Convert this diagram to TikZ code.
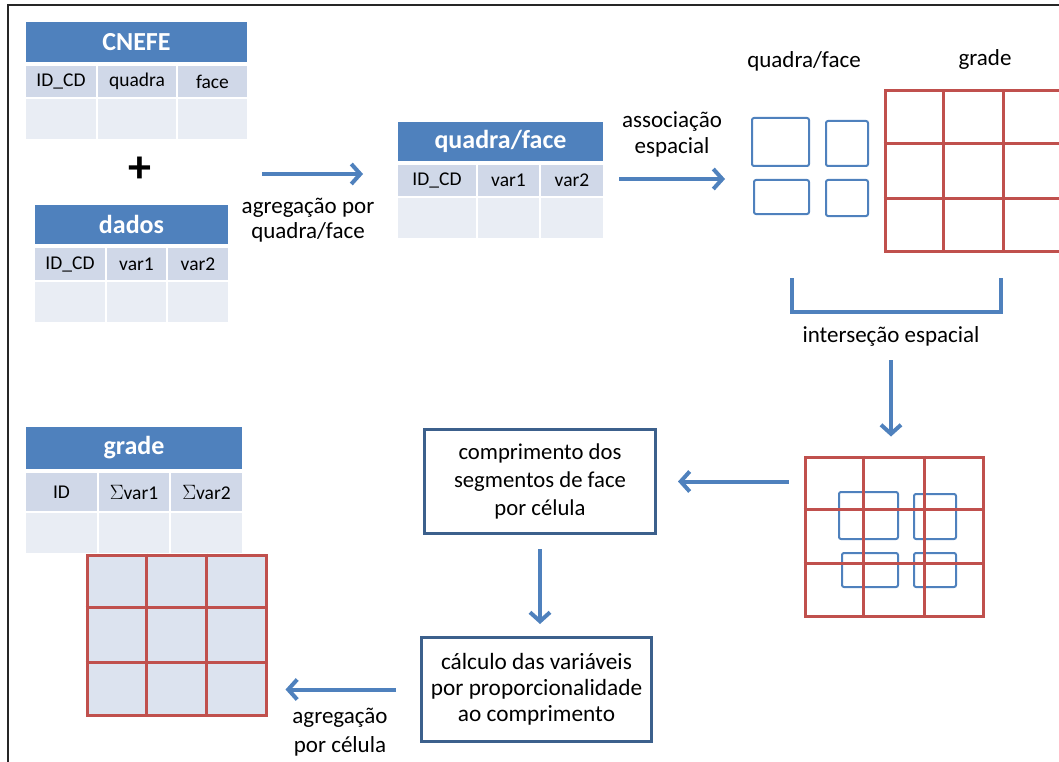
\documentclass[tikz,border=0pt]{standalone}
\usepackage{fontspec}
\setmainfont{Carlito}
\usepackage{tikz}
\usepackage{xcolor}
\usetikzlibrary{arrows.meta}
\usetikzlibrary{positioning}
\usetikzlibrary{calc}

\begin{document}
\begin{tikzpicture}[x=1pt, y=-1pt,
		hdr/.style={fill=HDR_BLUE, text=white, inner sep=0pt, font=\bfseries\fontsize{26}{30}\selectfont},
		rowtop/.style={fill=ROW_DARK, inner sep=0pt, font=\fontsize{19.5}{22}\selectfont},
		rowlow/.style={fill=ROW_LIGHT, inner sep=0pt},
		lbl/.style={inner sep=0pt, align=center, font=\fontsize{23}{26}\selectfont},
		stepbox/.style={draw=BOX_BLUE, line width=3pt, align=center, inner sep=0pt, font=\fontsize{22.7}{28}\selectfont},
		cellgrid/.style={draw=GRID_RED, line width=3pt},
		block/.style={draw=HDR_BLUE, line width=2pt, rounded corners=2pt, inner sep=0pt},
		flow/.style={draw=HDR_BLUE, line width=4pt, -{Straight Barb[length=9pt,width=20pt]}}]
				\definecolor{HDR_BLUE}{RGB}{79, 129, 189}
				\definecolor{ROW_DARK}{RGB}{208, 216, 232}
				\definecolor{ROW_LIGHT}{RGB}{233, 237, 244}
				\definecolor{GRID_RED}{RGB}{192, 80, 77}
				\definecolor{GRID_FILL}{RGB}{220, 227, 239}
				\definecolor{BOX_BLUE}{RGB}{60, 96, 140}
				\useasboundingbox (0,0) rectangle (1059,762);
				\draw[line width=1.5pt, black!85] (8,762) -- (8,5) -- (1059,5);
				% tabela CNEFE
				\node[hdr, minimum width=221, minimum height=40] (cnefe) at (136.5, 42) {CNEFE};
				\node[rowtop, minimum width=70, minimum height=31] (cnefe11) at ( 61.0,  81.5) {ID\_CD};
				\node[rowtop, minimum width=78, minimum height=31] (cnefe12) at (137.0,  81.5) {quadra};
				\node[rowtop, minimum width=69, minimum height=31] (cnefe13) at (212.5,  81.5) {face};
				\node[rowlow, minimum width=70, minimum height=40] (cnefe21) at ( 61.0, 119.0) {};
				\node[rowlow, minimum width=78, minimum height=40] (cnefe22) at (137.0, 119.0) {};
				\node[rowlow, minimum width=69, minimum height=40] (cnefe23) at (212.5, 119.0) {};
				\node[inner sep=0pt, font=\bfseries\fontsize{46}{46}\selectfont] (plus) at (140, 170) {+};
				% tabela dados
				\node[hdr, minimum width=193, minimum height=39] (dados) at (131.5, 224.5) {dados};
				\node[rowtop, minimum width=70, minimum height=32] (dados11) at ( 70.0, 264.0) {ID\_CD};
				\node[rowtop, minimum width=59, minimum height=32] (dados12) at (136.5, 264.0) {var1};
				\node[rowtop, minimum width=60, minimum height=32] (dados13) at (198.0, 264.0) {var2};
				\node[rowlow, minimum width=70, minimum height=40] (dados21) at ( 70.0, 302.0) {};
				\node[rowlow, minimum width=59, minimum height=40] (dados22) at (136.5, 302.0) {};
				\node[rowlow, minimum width=60, minimum height=40] (dados23) at (198.0, 302.0) {};
				% tabela quadra/face
				\node[hdr, minimum width=205, minimum height=39] (qf) at (500.5, 141.5) {quadra/face};
				\node[rowtop, minimum width=78, minimum height=31] (qf11) at (437.0, 180.5) {ID\_CD};
				\node[rowtop, minimum width=61, minimum height=31] (qf12) at (508.5, 180.5) {var1};
				\node[rowtop, minimum width=62, minimum height=31] (qf13) at (572.0, 180.5) {var2};
				\node[rowlow, minimum width=78, minimum height=40] (qf21) at (437.0, 218.0) {};
				\node[rowlow, minimum width=61, minimum height=40] (qf22) at (508.5, 218.0) {};
				\node[rowlow, minimum width=62, minimum height=40] (qf23) at (572.0, 218.0) {};
				% tabela grade
				\node[hdr, minimum width=216, minimum height=42] (grd) at (134.0, 448.0) {grade};
				\node[rowtop, minimum width=71, minimum height=38] (grd11) at ( 61.5, 492.0) {ID};
				\node[rowtop, minimum width=70, minimum height=38] (grd12) at (134.0, 492.0) {$\Sigma$var1};
				\node[rowtop, minimum width=71, minimum height=38] (grd13) at (206.5, 492.0) {$\Sigma$var2};
				\node[rowlow, minimum width=71, minimum height=40] (grd21) at ( 61.5, 533.0) {};
				\node[rowlow, minimum width=70, minimum height=40] (grd22) at (134.0, 533.0) {};
				\node[rowlow, minimum width=71, minimum height=40] (grd23) at (206.5, 533.0) {};
				% quadras e grades
				\node[lbl] (qflabel) at (804, 61) {quadra/face};
				\node[lbl] (gradelabel) at (985, 59) {grade};
				\node[block, minimum width=57, minimum height=48] (q1) at (780.5, 142.0) {};
				\node[block, minimum width=42, minimum height=45] (q2) at (847.0, 143.5) {};
				\node[block, minimum width=55, minimum height=34] (q3) at (781.5, 197.0) {};
				\node[block, minimum width=42, minimum height=36] (q4) at (847.0, 198.0) {};
				\node[cellgrid, minimum width=177, minimum height=160] (grid1) at (973.5, 171.0) {};
				\node[cellgrid, minimum width=178, minimum height=159] (grid2) at (894.0, 536.5) {};
				\node[block, minimum width=59, minimum height=47] (p1) at (868.5, 515.5) {};
				\node[block, minimum width=42, minimum height=45] (p2) at (935.0, 516.5) {};
				\node[block, minimum width=56, minimum height=34] (p3) at (870.0, 570.0) {};
				\node[block, minimum width=42, minimum height=34] (p4) at (935.0, 570.0) {};
				\node[cellgrid, fill=GRID_FILL, minimum width=179, minimum height=160] (grid3) at (176.5, 635.0) {};
				\draw[cellgrid] ($(grid1.north west)!1/3!(grid1.north east)$) -- ($(grid1.south west)!1/3!(grid1.south east)$);
				\draw[cellgrid] ($(grid1.north west)!2/3!(grid1.north east)$) -- ($(grid1.south west)!2/3!(grid1.south east)$);
				\draw[cellgrid] ($(grid1.north west)!1/3!(grid1.south west)$) -- ($(grid1.north east)!1/3!(grid1.south east)$);
				\draw[cellgrid] ($(grid1.north west)!2/3!(grid1.south west)$) -- ($(grid1.north east)!2/3!(grid1.south east)$);
				\draw[cellgrid] ($(grid2.north west)!1/3!(grid2.north east)$) -- ($(grid2.south west)!1/3!(grid2.south east)$);
				\draw[cellgrid] ($(grid2.north west)!2/3!(grid2.north east)$) -- ($(grid2.south west)!2/3!(grid2.south east)$);
				\draw[cellgrid] ($(grid2.north west)!1/3!(grid2.south west)$) -- ($(grid2.north east)!1/3!(grid2.south east)$);
				\draw[cellgrid] ($(grid2.north west)!2/3!(grid2.south west)$) -- ($(grid2.north east)!2/3!(grid2.south east)$);
				\draw[cellgrid] ($(grid3.north west)!1/3!(grid3.north east)$) -- ($(grid3.south west)!1/3!(grid3.south east)$);
				\draw[cellgrid] ($(grid3.north west)!2/3!(grid3.north east)$) -- ($(grid3.south west)!2/3!(grid3.south east)$);
				\draw[cellgrid] ($(grid3.north west)!1/3!(grid3.south west)$) -- ($(grid3.north east)!1/3!(grid3.south east)$);
				\draw[cellgrid] ($(grid3.north west)!2/3!(grid3.south west)$) -- ($(grid3.north east)!2/3!(grid3.south east)$);
				% passos
				\node[stepbox, minimum width=231, minimum height=104] (box1) at (540.0, 481.5) {comprimento dos\\segmentos de face\\por célula};
				\node[stepbox, font=\fontsize{23.3}{26}\selectfont, minimum width=230, minimum height=104] (box2) at (536.5, 689.5) {cálculo das variáveis\\por proporcionalidade\\ao comprimento};
				% rotulos
				\node[lbl, font=\fontsize{23}{25}\selectfont] (agg1) at (308, 220) {agregação por\\quadra/face};
				\node[lbl] (assoc) at (672, 134) {associação\\espacial};
				\node[lbl] (isect) at (891, 336) {interseção espacial};
				\node[lbl, font=\fontsize{23}{29}\selectfont] (agg2) at (340, 732) {agregação\\por célula};
				% setas
				\coordinate (agg1from) at (262, 174);
				\coordinate (agg1to) at (363, 174);
				\coordinate (assocfrom) at (619, 179);
				\coordinate (assocto) at (725, 179);
				\draw[flow] (agg1from) to (agg1to);
				\draw[flow] (assocfrom) to (assocto);
				\draw[HDR_BLUE, line width=3.5pt] (792, 278) -- (792, 312) -- (1001, 312) -- (1001, 278);
				\draw[flow, shorten <=14pt, shorten >=19pt] (isect.south) to (isect.south |- grid2.north);
				\draw[flow, shorten <=15pt, shorten >=21pt] (grid2.west |- box1.east) to (box1.east);
				\draw[flow, shorten <=14pt, shorten >=12pt] (box1.south) to (box1.south |- box2.north);
				\draw[flow, shorten <=24pt, shorten >=18pt] (box2.west) to (box2.west -| grid3.east);
			\end{tikzpicture}
\end{document}
